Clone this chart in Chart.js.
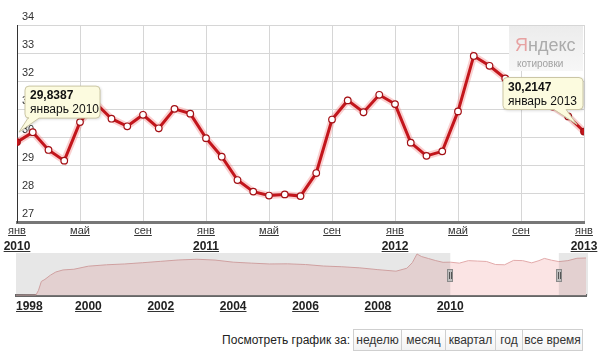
<!DOCTYPE html>
<html>
<head>
<meta charset="utf-8">
<title>Котировки: курс доллара</title>
<script src="https://cdn.jsdelivr.net/npm/chart.js@4.4.1/dist/chart.umd.min.js"></script>
<style>
  body { margin: 0; background: #fff; font-family: "Liberation Sans", Arial, sans-serif; }
  #wrap { position: relative; width: 600px; height: 353px; overflow: hidden; }
  #main { position: absolute; left: 0; top: 0; }
  #nav { position: absolute; left: 0; top: 250px; }
  #lbl { position: absolute; right: 250px; top: 333px; font-size: 12px; color: #222; }
  #btns { position: absolute; left: 353px; top: 329px; height: 20px; display: flex;
          border: 1px solid #cfcfcf; font-size: 12px; color: #333; }
  #btns span { display: block; text-align: center; line-height: 20px; border-left: 1px solid #cfcfcf;
               background: linear-gradient(#fff, #f3f3f3); }
  #btns span:first-child { border-left: none; }
</style>
</head>
<body>
<div id="wrap">
  <canvas id="main" width="600" height="253"></canvas>
  <canvas id="nav" width="600" height="72"></canvas>
  <div id="lbl">Посмотреть график за:</div>
  <div id="btns">
    <span style="width:47px">неделю</span>
    <span style="width:43px">месяц</span>
    <span style="width:49px">квартал</span>
    <span style="width:26px">год</span>
    <span style="width:59px">все время</span>
  </div>
</div>
<script>
// месячные значения, январь 2010 - январь 2013
var startYear = 2010;
var monthShort = ['янв', 'фев', 'мар', 'апр', 'май', 'июн', 'июл', 'авг', 'сен', 'окт', 'ноя', 'дек'];
var monthFull = ['январь', 'февраль', 'март', 'апрель', 'май', 'июнь', 'июль', 'август', 'сентябрь', 'октябрь', 'ноябрь', 'декабрь'];
var rates = [29.8387, 30.19, 29.56, 29.18, 30.55, 31.22, 30.67, 30.40, 30.81, 30.33, 31.02, 30.85,
             29.98, 29.32, 28.49, 28.08, 27.94, 27.98, 27.92, 28.74, 30.64, 31.32, 30.90, 31.52,
             31.19, 29.82, 29.35, 29.51, 30.93, 32.90, 32.55, 32.10, 31.70, 31.40, 31.10, 30.75,
             30.2147];
var yTicks = [27, 28, 29, 30, 31, 32, 33, 34];
var shownPoints = [0, 36]; // подсказки

// навигатор 1998 - 2013
var navYears = [1998.0, 1998.55, 1998.62, 1998.7, 1998.8, 1998.95, 1999.1, 1999.3, 1999.6, 2000.0,
                2000.5, 2001.0, 2001.5, 2002.0, 2002.5, 2003.0, 2003.5, 2004.0, 2004.5, 2005.0,
                2005.5, 2006.0, 2006.5, 2007.0, 2007.5, 2008.0, 2008.5, 2008.8, 2008.95, 2009.08,
                2009.2, 2009.4, 2009.6, 2009.8, 2010.0, 2010.25, 2010.5, 2010.75, 2011.0, 2011.25,
                2011.5, 2011.75, 2012.0, 2012.25, 2012.45, 2012.6, 2012.8, 2013.0, 2013.25, 2013.5,
                2013.75];
var navRates = [6.0, 6.2, 9.5, 16.0, 17.5, 20.5, 22.8, 24.3, 24.8, 27.0,
                28.0, 28.6, 29.5, 30.5, 31.5, 32.0, 31.4, 29.9, 29.2, 28.6,
                28.7, 28.2, 27.1, 26.6, 25.8, 24.5, 23.4, 25.5, 29.5, 35.8,
                34.0, 32.5, 31.0, 29.8, 29.9, 29.2, 31.0, 30.7, 30.4, 28.2,
                28.0, 31.2, 31.0, 29.4, 31.0, 32.6, 31.3, 30.3, 31.0, 32.7,
                32.9];
var navSelFrom = 2010, navSelTo = 2013;

var FONT = '"Liberation Sans", Arial, sans-serif';

function underline(chart, id) {
  var s = chart.scales[id];
  var ctx = chart.ctx;
  var items = s.getLabelItems();
  ctx.save();
  ctx.strokeStyle = '#333';
  ctx.lineWidth = 1;
  items.forEach(function (it) {
    if (!it.label) return;
    var o = it.options;
    ctx.font = it.font.string;
    ctx.textBaseline = o.textBaseline;
    var m = ctx.measureText(it.label);
    var w = m.width;
    var x = o.translation[0];
    var x0 = o.textAlign === 'left' ? x : (o.textAlign === 'right' ? x - w : x - w / 2);
    var y = Math.round(o.translation[1] + (it.textOffset || 0) + m.actualBoundingBoxDescent + 1) + 0.5;
    ctx.beginPath();
    ctx.moveTo(x0, y);
    ctx.lineTo(x0 + w, y);
    ctx.stroke();
  });
  ctx.restore();
}

function bubble(ctx, left, top, w, h, tail, lines) {
  var r = 4;
  ctx.save();
  ctx.shadowColor = 'rgba(0,0,0,0.18)';
  ctx.shadowBlur = 3;
  ctx.shadowOffsetX = 1;
  ctx.shadowOffsetY = 1;
  ctx.beginPath();
  ctx.moveTo(left + r, top);
  ctx.lineTo(left + w - r, top);
  ctx.quadraticCurveTo(left + w, top, left + w, top + r);
  ctx.lineTo(left + w, top + h - r);
  ctx.quadraticCurveTo(left + w, top + h, left + w - r, top + h);
  ctx.lineTo(tail[2], top + h);
  ctx.lineTo(tail[3], tail[4]);
  ctx.lineTo(tail[1], top + h);
  ctx.lineTo(left + r, top + h);
  ctx.quadraticCurveTo(left, top + h, left, top + h - r);
  ctx.lineTo(left, top + r);
  ctx.quadraticCurveTo(left, top, left + r, top);
  ctx.closePath();
  ctx.fillStyle = '#fcfbdf';
  ctx.fill();
  ctx.shadowColor = 'transparent';
  ctx.strokeStyle = '#cbc6a4';
  ctx.lineWidth = 1;
  ctx.stroke();
  ctx.fillStyle = '#111';
  ctx.textBaseline = 'middle';
  ctx.textAlign = 'left';
  ctx.font = 'bold 12px ' + FONT;
  ctx.fillText(lines[0], left + 5, top + 10);
  ctx.font = '12px ' + FONT;
  ctx.fillText(lines[1], left + 5, top + 24);
  ctx.restore();
}

var mainDecor = {
  id: 'mainDecor',
  beforeDatasetsDraw: function (chart) {
    // логотип
    var ctx = chart.ctx;
    ctx.save();
    var g = ctx.createLinearGradient(0, 26, 0, 71);
    g.addColorStop(0, '#ececec');
    g.addColorStop(1, '#f7f7f7');
    ctx.fillStyle = g;
    ctx.fillRect(509, 26, 74, 45);
    ctx.textBaseline = 'alphabetic';
    ctx.textAlign = 'left';
    ctx.font = '18px ' + FONT;
    ctx.fillStyle = '#e7a2a2';
    ctx.fillText('Я', 515, 51);
    var wY = ctx.measureText('Я').width;
    ctx.fillStyle = '#ababab';
    ctx.fillText('ндекс', 515 + wY, 51);
    ctx.font = '10px ' + FONT;
    ctx.fillStyle = '#a2a2a2';
    ctx.fillText('котировки', 517, 67);
    ctx.restore();
  },
  afterDraw: function (chart) {
    underline(chart, 'x');
    underline(chart, 'x2');
    var meta = chart.getDatasetMeta(1);
    var ctx = chart.ctx;
    shownPoints.forEach(function (i) {
      var p = meta.data[i];
      var txt = rates[i].toFixed(4).replace('.', ',');
      var date = monthFull[i % 12] + ' ' + (startYear + Math.floor(i / 12));
      if (p.x < 300) {
        bubble(ctx, p.x + 8, p.y - 56, 75, 32, [0, p.x + 11, p.x + 22, p.x + 2, p.y - 10], [txt, date]);
      } else {
        bubble(ctx, p.x - 81, p.y - 54, 80, 32, [0, p.x - 30, p.x - 18, p.x - 7, p.y - 7], [txt, date]);
      }
    });
  }
};

var points = rates.map(function (v, i) { return { x: i, y: v }; });

new Chart(document.getElementById('main'), {
  type: 'line',
  data: {
    datasets: [{
      data: points,
      borderColor: 'rgba(240,120,120,0.35)',
      borderWidth: 7,
      pointRadius: 0,
      order: 2
    }, {
      data: points,
      borderColor: '#c3161c',
      borderWidth: 3,
      pointRadius: 3.3,
      pointBorderWidth: 1.2,
      pointBorderColor: '#a31015',
      pointBackgroundColor: function (c) {
        return shownPoints.indexOf(c.dataIndex) >= 0 ? '#c3161c' : '#fff';
      },
      order: 1
    }]
  },
  options: {
    responsive: false,
    animation: false,
    layout: { padding: { left: 17, right: 16, top: 25, bottom: 0 } },
    plugins: { legend: { display: false }, tooltip: { enabled: false } },
    scales: {
      x: {
        type: 'linear', min: 0, max: rates.length - 1, weight: 0,
        grid: { color: '#d6d6d6', drawTicks: false },
        border: { color: '#777', width: 3 },
        ticks: {
          stepSize: 4, autoSkip: false, maxRotation: 0, padding: 3,
          color: '#333', font: { family: FONT, size: 11, lineHeight: 12 / 11 },
          callback: function (v) { return monthShort[v % 12]; }
        }
      },
      x2: {
        type: 'linear', position: 'bottom', min: 0, max: rates.length - 1, weight: 1,
        grid: { display: false, drawTicks: false },
        border: { display: false },
        ticks: {
          stepSize: 12, autoSkip: false, maxRotation: 0, padding: 0,
          color: '#222', font: { family: FONT, size: 12, weight: 'bold', lineHeight: 13 / 12 },
          callback: function (v) { return String(startYear + v / 12); }
        }
      },
      y: {
        min: yTicks[0], max: yTicks[yTicks.length - 1],
        afterFit: function (s) { s.width = 0; },
        grid: { color: '#d6d6d6', drawTicks: false },
        border: { color: '#333', width: 1 },
        ticks: {
          stepSize: 1, mirror: true, padding: 5, labelOffset: -8,
          color: '#333', font: { family: FONT, size: 11 }
        }
      }
    }
  },
  plugins: [mainDecor]
});

var navDecor = {
  id: 'navDecor',
  afterDatasetsDraw: function (chart) {
    var ctx = chart.ctx, a = chart.chartArea, x = chart.scales.x;
    var x1 = x.getPixelForValue(navSelFrom), x2 = x.getPixelForValue(navSelTo);
    ctx.save();
    ctx.fillStyle = 'rgba(110,110,110,0.17)';
    ctx.fillRect(a.left, a.top, x1 - a.left, a.bottom - a.top);
    ctx.fillRect(x2, a.top, a.right + 2 - x2, a.bottom - a.top);
    [x1, x2].forEach(function (hx) {
      var hy = a.top + 16;
      ctx.fillStyle = '#bdbdbd';
      ctx.strokeStyle = '#8a8a8a';
      ctx.lineWidth = 1;
      ctx.fillRect(Math.round(hx) - 3, hy, 6, 13);
      ctx.strokeRect(Math.round(hx) - 2.5, hy + 0.5, 5, 12);
      ctx.strokeStyle = '#555';
      ctx.beginPath();
      ctx.moveTo(Math.round(hx) - 0.5, hy + 3); ctx.lineTo(Math.round(hx) - 0.5, hy + 10);
      ctx.moveTo(Math.round(hx) + 1.5, hy + 3); ctx.lineTo(Math.round(hx) + 1.5, hy + 10);
      ctx.stroke();
    });
    ctx.restore();
  },
  afterDraw: function (chart) { underline(chart, 'x'); }
};

new Chart(document.getElementById('nav'), {
  type: 'line',
  data: {
    datasets: [{
      data: navYears.map(function (y, i) { return { x: y, y: navRates[i] }; }),
      borderColor: '#e2aaaa',
      borderWidth: 1,
      backgroundColor: '#fbe4e4',
      fill: 'start',
      pointRadius: 0
    }]
  },
  options: {
    responsive: false,
    animation: false,
    layout: { padding: { left: 16, right: 14, top: 3, bottom: 4 } },
    plugins: { legend: { display: false }, tooltip: { enabled: false } },
    scales: {
      x: {
        type: 'linear', min: 1998, max: 2013.75,
        grid: { display: false, drawTicks: false },
        border: { color: '#666', width: 3 },
        ticks: {
          stepSize: 2, autoSkip: false, maxRotation: 0, align: 'inner', padding: 4,
          color: '#222', font: { family: FONT, size: 12, weight: 'bold' },
          callback: function (v) { return (Number.isInteger(v) && v % 2 === 0) ? String(v) : ''; }
        }
      },
      y: { display: false, min: 5.8, max: 36.5 }
    }
  },
  plugins: [navDecor]
});
</script>
</body>
</html>
